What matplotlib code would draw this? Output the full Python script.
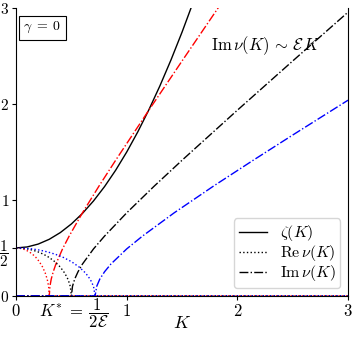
import matplotlib
matplotlib.use("Agg")
import matplotlib.pyplot as plt
from matplotlib.lines import Line2D

plt.rcParams['mathtext.fontset'] = 'cm'
plt.rcParams['font.family'] = ['DejaVu Serif']

# zeta(K)
K_zeta = [0.0, 0.1, 0.2, 0.3, 0.4, 0.5, 0.6, 0.7, 0.8, 0.9, 1.0, 1.1, 1.2, 1.3, 1.4, 1.5, 1.6, 1.7]
zeta = [0.5, 0.51, 0.54, 0.59, 0.66, 0.75, 0.86, 0.99, 1.14, 1.31, 1.5, 1.71, 1.94, 2.19, 2.46, 2.75, 3.06, 3.39]

# Re nu(K) for each curve (red, black, blue)
K_re_red = [0.0, 0.03, 0.06, 0.09, 0.12, 0.15, 0.18, 0.21, 0.24, 0.264, 0.282, 0.294, 0.3, 3.0]
re_red = [0.5, 0.4975, 0.49, 0.477, 0.458, 0.433, 0.4, 0.357, 0.3, 0.237, 0.171, 0.0995, 0.0, 0.0]
K_re_black = [0.0, 0.05, 0.1, 0.15, 0.2, 0.25, 0.3, 0.35, 0.4, 0.44, 0.47, 0.49, 0.5, 3.0]
re_black = [0.5, 0.4975, 0.49, 0.477, 0.458, 0.433, 0.4, 0.357, 0.3, 0.237, 0.171, 0.0995, 0.0, 0.0]
K_re_blue = [0.0, 0.071, 0.143, 0.214, 0.286, 0.357, 0.429, 0.5, 0.571, 0.629, 0.671, 0.7, 0.714, 3.0]
re_blue = [0.5, 0.4975, 0.49, 0.477, 0.458, 0.433, 0.4, 0.357, 0.3, 0.237, 0.171, 0.0995, 0.0, 0.0]

# Im nu(K) for each curve
K_im_red = [0.0, 0.3, 0.306, 0.318, 0.336, 0.36, 0.42, 0.48, 0.6, 0.75, 0.9, 1.2, 1.5, 1.8, 1.9]
im_red = [0.0, 0.0, 0.1005, 0.176, 0.252, 0.332, 0.49, 0.624, 0.866, 1.146, 1.414, 1.936, 2.449, 2.958, 3.127]
K_im_black = [0.0, 0.5, 0.51, 0.53, 0.56, 0.6, 0.7, 0.8, 1.0, 1.25, 1.5, 2.0, 2.5, 3.0]
im_black = [0.0, 0.0, 0.1005, 0.176, 0.252, 0.332, 0.49, 0.624, 0.866, 1.146, 1.414, 1.936, 2.449, 2.958]
K_im_blue = [0.0, 0.714, 0.729, 0.757, 0.8, 0.857, 1.0, 1.143, 1.429, 1.786, 2.143, 2.5, 3.0]
im_blue = [0.0, 0.0, 0.1005, 0.176, 0.252, 0.332, 0.49, 0.624, 0.866, 1.146, 1.414, 1.677, 2.04]

xticks = [0, 1, 2, 3]
xticklabels = ['$0$', '$1$', '$2$', '$3$']
yticks = [0, 0.5, 1, 2, 3]
yticklabels = ['$0$', r'$\dfrac{1}{2}$', '$1$', '$2$', '$3$']

fig = plt.figure(figsize=(3.57, 3.37), dpi=100)
ax = fig.add_axes([0.045, 0.122, 0.93, 0.854])

lw = 1.0
ax.plot(K_zeta, zeta, color='black', lw=lw, ls='-')
for Kr, r, Ki, im, c in [(K_re_red, re_red, K_im_red, im_red, 'red'),
                         (K_re_black, re_black, K_im_black, im_black, 'black'),
                         (K_re_blue, re_blue, K_im_blue, im_blue, 'blue')]:
    ax.plot(Kr, r, color=c, lw=lw, ls=':')
    ax.plot(Ki, im, color=c, lw=lw, ls='-.')

ax.set_xlim(0, 3)
ax.set_ylim(0, 3)
ax.set_xticks(xticks)
ax.set_xticklabels(xticklabels, fontsize=12)
ax.set_yticks(yticks)
ax.set_yticklabels(yticklabels, fontsize=11)
ax.spines['top'].set_visible(False)
ax.tick_params(length=3, pad=2)

ax.text(0.5, -0.095, '$K$', transform=ax.transAxes, ha='center', va='center', fontsize=13)
ax.annotate(r'$K^{*}\;=\;\dfrac{1}{2\mathcal{E}}$', xy=(0.52, -0.06), xycoords=('data', 'axes fraction'),
            ha='center', va='center', fontsize=12)
ax.text(1.76, 2.61, r'$\mathrm{Im}\,\nu(K)\,\sim\,\mathcal{E}\,K$', ha='left', va='center', fontsize=12)
ax.text(0.022, 0.958, r'$\gamma\;=\;0$', transform=ax.transAxes, ha='left', va='top', fontsize=10,
        bbox=dict(boxstyle='square,pad=0.3', fc='white', ec='black', lw=0.8))

handles = [Line2D([], [], color='black', lw=lw, ls='-'),
           Line2D([], [], color='black', lw=lw, ls=':'),
           Line2D([], [], color='black', lw=lw, ls='-.')]
labels = [r'$\zeta(K)$', r'$\mathrm{Re}\,\nu(K)$', r'$\mathrm{Im}\,\nu(K)$']
ax.legend(handles, labels, loc='lower right', fontsize=11.5, handlelength=1.75,
          borderaxespad=0.5, labelspacing=0.0, borderpad=0.3)

fig.savefig('out.png', dpi=100)
